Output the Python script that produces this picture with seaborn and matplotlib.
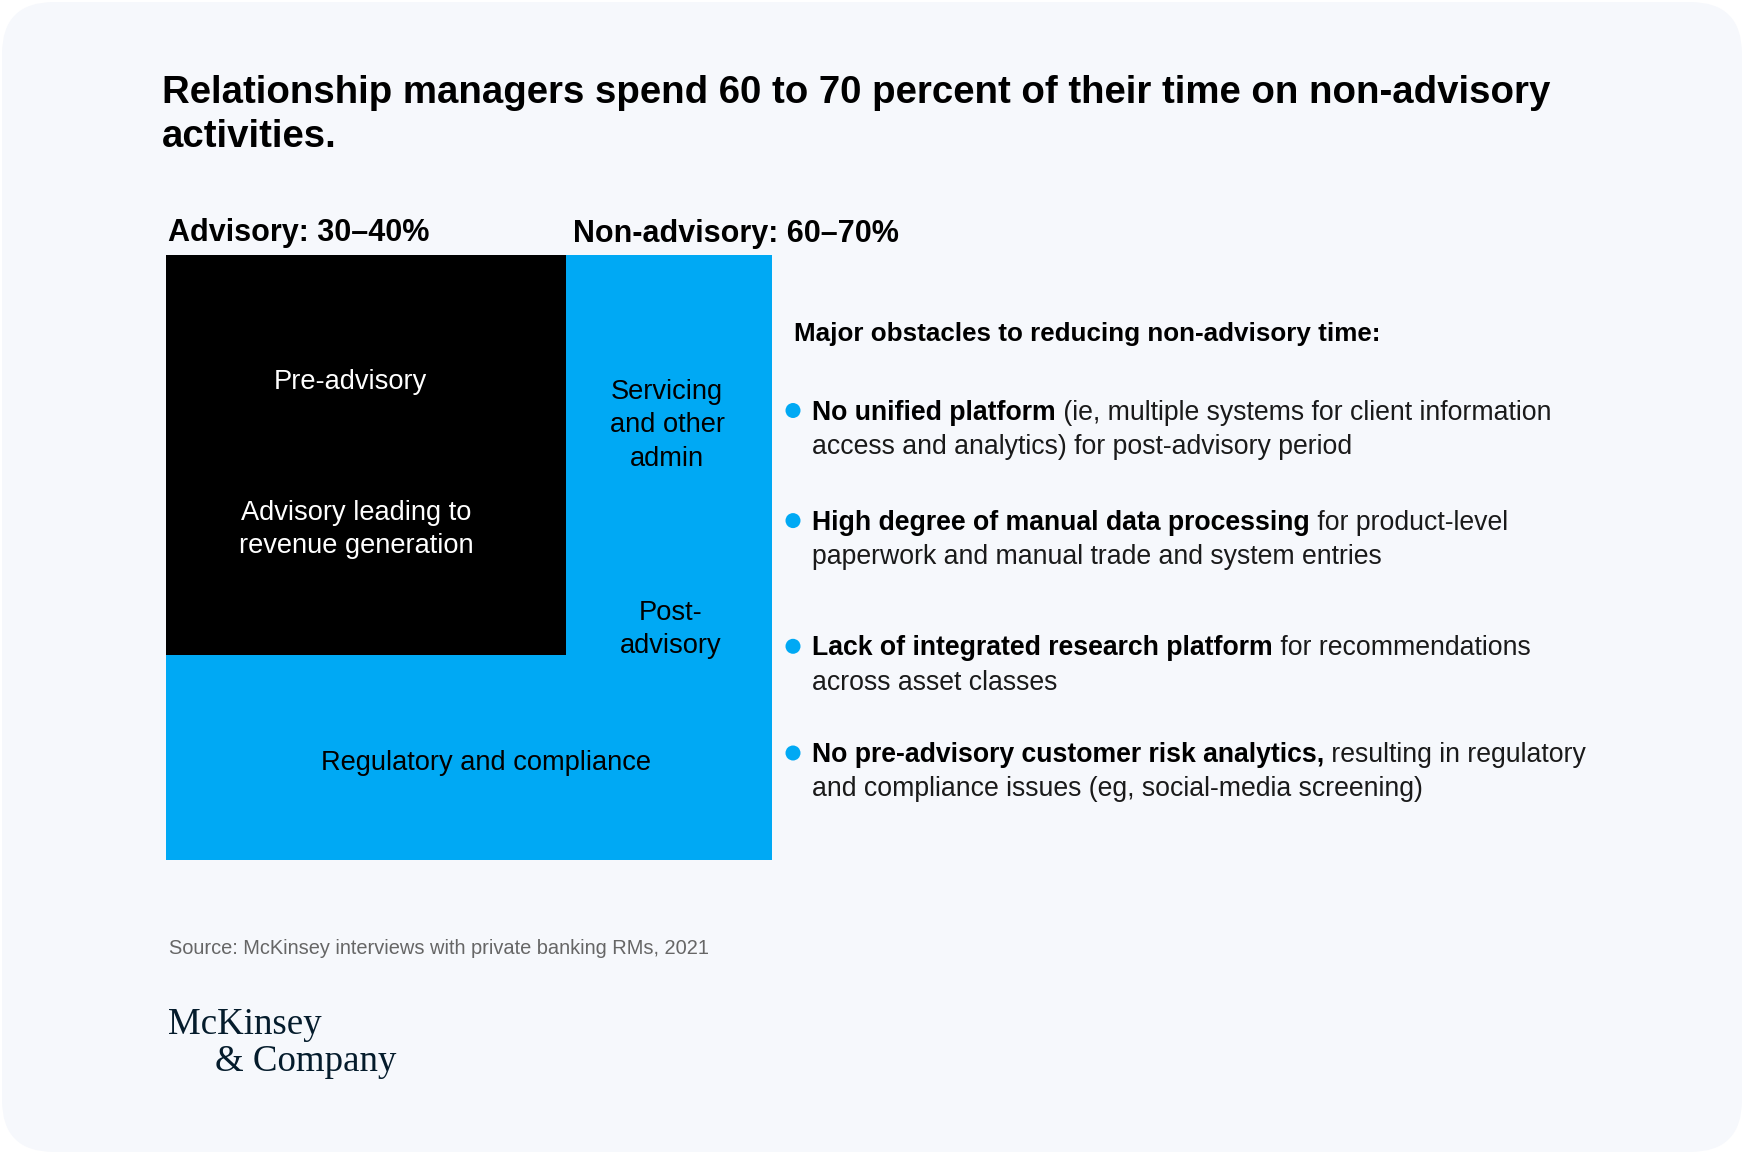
import matplotlib
matplotlib.use("Agg")
import matplotlib.pyplot as plt
from matplotlib.patches import FancyBboxPatch, Circle
import seaborn as sns
import pandas as pd

# ── Data ─────────────────────────────────────────────────────
title = ("Relationship managers spend 60 to 70 percent of their time on non-advisory\n"
         "activities.")
group_labels = ["Advisory: 30–40%", "Non-advisory: 60–70%"]

# treemap blocks (share of width / height of the whole square)
block_names = ["Non-advisory", "Advisory"]
block_left = [0.0, 0.0]
block_width = [1.0, 0.66]
block_bottom = [0.0, 0.338]
block_height = [1.0, 0.662]

segment_labels = ["Pre-advisory", "Advisory leading to\nrevenue generation",
                  "Servicing\nand other\nadmin", "Post-\nadvisory",
                  "Regulatory and compliance"]
segment_group = ["Advisory", "Advisory", "Non-advisory", "Non-advisory", "Non-advisory"]

obstacles_head = "Major obstacles to reducing non-advisory time:"
obstacles_bold = ["No unified platform", "High degree of manual data processing",
                  "Lack of integrated research platform",
                  "No pre-advisory customer risk analytics,"]
obstacles_rest = [[" (ie, multiple systems for client information",
                   "access and analytics) for post-advisory period"],
                  [" for product-level",
                   "paperwork and manual trade and system entries"],
                  [" for recommendations", "across asset classes"],
                  [" resulting in regulatory",
                   "and compliance issues (eg, social-media screening)"]]
source = "Source: McKinsey interviews with private banking RMs, 2021"

# ── Style ────────────────────────────────────────────────────
sns.set_theme(style="white")
plt.rcParams["font.family"] = ["Liberation Sans", "DejaVu Sans"]
BLUE = "#00A9F4"
INK = "#000000"
CARD = "#F6F8FC"

W, H = 1744, 1154
fig = plt.figure(figsize=(W / 100, H / 100), dpi=100, facecolor="white")

# full-figure pixel canvas for background and text
bg = fig.add_axes([0, 0, 1, 1])
bg.set_xlim(0, W)
bg.set_ylim(H, 0)
bg.axis("off")
bg.add_patch(FancyBboxPatch((2, 2), W - 4, H - 4,
                            boxstyle="round,pad=0,rounding_size=52",
                            fc=CARD, ec="none"))

bg.text(162, 115, title, fontsize=27.6, fontweight="bold", color=INK,
        va="center", ha="left", linespacing=1.3)
bg.text(168, 233, group_labels[0], fontsize=22, fontweight="bold", color=INK, va="center")
bg.text(573, 234, group_labels[1], fontsize=22, fontweight="bold", color=INK, va="center")

# ── Treemap ──────────────────────────────────────────────────
x0, x1, y0, y1 = 165.5, 772, 254.5, 860
ax = fig.add_axes([x0 / W, 1 - y1 / H, (x1 - x0) / W, (y1 - y0) / H])
blocks = pd.DataFrame({"name": block_names, "left": block_left, "width": block_width,
                       "bottom": block_bottom, "height": block_height})
colors = {"Non-advisory": BLUE, "Advisory": INK}
for _, r in blocks.iterrows():
    ax.bar(r["left"], r["height"], width=r["width"], bottom=r["bottom"],
           align="edge", color=colors[r["name"]], linewidth=0)
ax.set_xlim(0, 1)
ax.set_ylim(0, 1)
ax.axis("off")

label_xy = [(0.304, 0.790), (0.314, 0.546), (0.827, 0.718), (0.833, 0.381), (0.528, 0.160)]
for lab, grp, (lx, ly) in zip(segment_labels, segment_group, label_xy):
    ax.text(lx, ly, lab, ha="center", va="center", fontsize=19.6, linespacing=1.38,
            color="white" if grp == "Advisory" else INK)

# ── Obstacles list ───────────────────────────────────────────
bg.text(794, 334, obstacles_head, fontsize=18.75, fontweight="bold", color=INK, va="center")
fig.canvas.draw()
renderer = fig.canvas.get_renderer()
inv = bg.transData.inverted()
line1_y = [412.5, 522.6, 648.3, 755.0]
for bold, rest, ly in zip(obstacles_bold, obstacles_rest, line1_y):
    bg.add_patch(Circle((793, ly - 2), 7.5, fc=BLUE, ec="none"))
    t = bg.text(812, ly, bold, fontsize=19.2, fontweight="bold", color=INK, va="center")
    bb = t.get_window_extent(renderer=renderer)
    xr = inv.transform((bb.x1, bb.y0))[0]
    bg.text(xr, ly, rest[0], fontsize=19.2, color="#1a1a1a", va="center")
    bg.text(812, ly + 34.5, rest[1], fontsize=19.2, color="#1a1a1a", va="center")

# ── Footer ───────────────────────────────────────────────────
bg.text(169, 948, source, fontsize=14.4, color="#666666", va="center")
bg.text(168, 1034, "McKinsey", fontsize=26.6, color="#051C2C", va="baseline",
        family=["Liberation Serif", "DejaVu Serif"])
bg.text(215, 1071, "& Company", fontsize=26.6, color="#051C2C", va="baseline",
        family=["Liberation Serif", "DejaVu Serif"])

fig.savefig("out.png", dpi=100, facecolor="white")
